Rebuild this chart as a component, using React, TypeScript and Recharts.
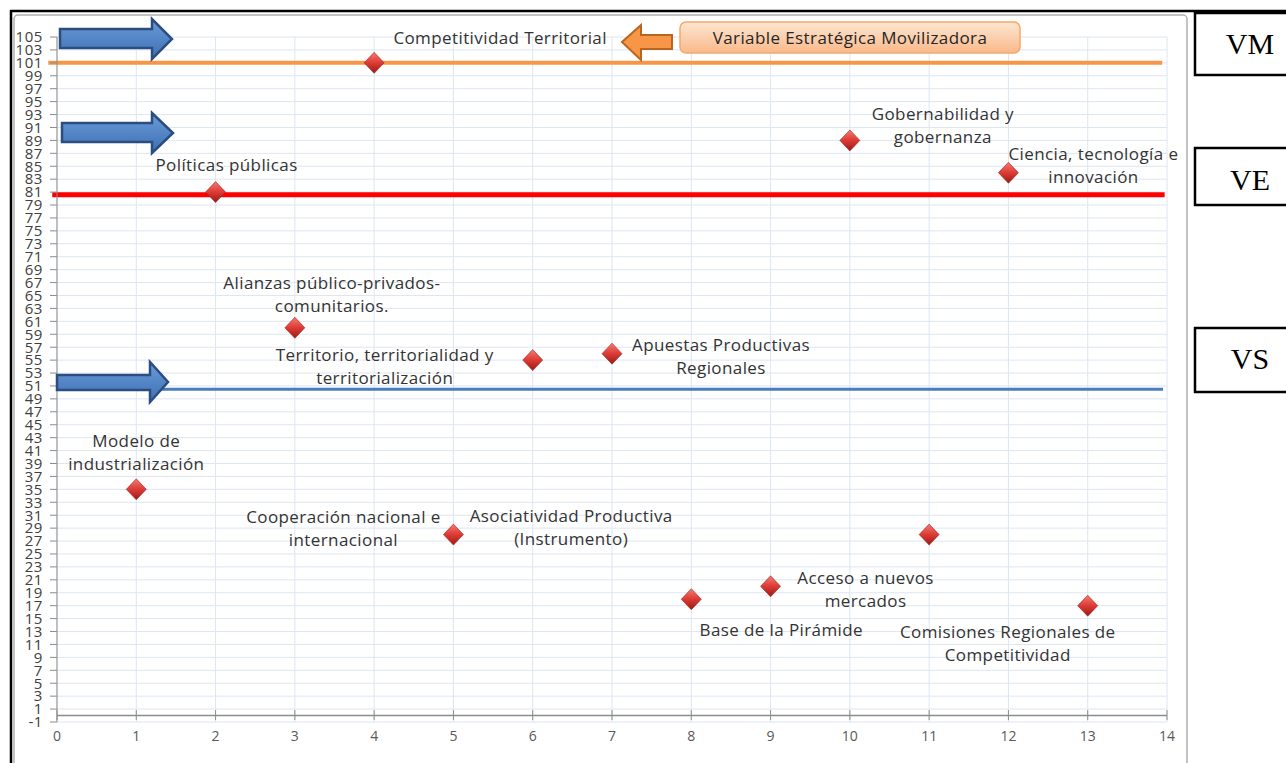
import React from 'react';
import { ScatterChart, Scatter, XAxis, YAxis, CartesianGrid, ReferenceLine } from 'recharts';

// variables (x = posición, y = puntaje)
const positions = [1, 2, 3, 4, 5, 6, 7, 8, 9, 10, 11, 12, 13];
const scores = [35, 81, 60, 101, 28, 55, 56, 18, 20, 89, 28, 84, 17];
const names = [
  'Modelo de\nindustrialización',
  'Políticas públicas',
  'Alianzas público-privados-\ncomunitarios.',
  'Competitividad Territorial',
  'Cooperación nacional e\ninternacional',
  'Territorio, territorialidad y\nterritorialización',
  'Apuestas Productivas\nRegionales',
  'Base de la Pirámide',
  'Acceso a nuevos\nmercados',
  'Gobernabilidad y\ngobernanza',
  'Asociatividad Productiva\n(Instrumento)',
  'Ciencia, tecnología e\ninnovación',
  'Comisiones Regionales de\nCompetitividad',
];

// umbrales: VM, VE, VS
const thresholds = [101, 80.6, 50.5];

const xTicks = [0, 1, 2, 3, 4, 5, 6, 7, 8, 9, 10, 11, 12, 13, 14];
const yTicks = [
  -1, 1, 3, 5, 7, 9, 11, 13, 15, 17, 19, 21, 23, 25, 27, 29, 31, 33, 35, 37, 39, 41, 43, 45, 47, 49, 51,
  53, 55, 57, 59, 61, 63, 65, 67, 69, 71, 73, 75, 77, 79, 81, 83, 85, 87, 89, 91, 93, 95, 97, 99, 101, 103, 105,
];

// where each label sits relative to its marker (px): [dx, dy of first line]
const labelOffsets: [number, number][] = [
  [0, -48], [11, -27], [37, -45], [126, -25], [-110, -18], [-148, -5], [109, -9],
  [90, 31], [95, -8], [93, -26], [-358, -19], [85, -19], [-80, 26],
];

const data = positions.map((x, i) => ({ x, y: scores[i], name: names[i], idx: i }));

const LABEL_FONT = '"Open Sans", sans-serif';

const DiamondWithLabel = (props: any) => {
  const { cx, cy, payload } = props;
  if (cx == null || cy == null) return null;
  const [dx, dy] = labelOffsets[payload.idx];
  const lines = String(payload.name).split('\n');
  return (
    <g>
      <polygon
        points={`${cx},${cy - 10.5} ${cx + 10},${cy} ${cx},${cy + 10.5} ${cx - 10},${cy}`}
        fill="url(#diamondGrad)"
        stroke="#a0201c"
        strokeWidth={0.6}
      />
      {lines.map((ln, k) => (
        <text
          key={k}
          x={cx + dx}
          y={cy + dy + k * 23 + 6}
          textAnchor="middle"
          fontFamily={LABEL_FONT}
          fontSize={17}
          letterSpacing={0.4}
          fill="#333"
        >
          {ln}
        </text>
      ))}
    </g>
  );
};

const blueArrow = (x0: number, sy0: number, sy1: number, hx: number, hy0: number, hy1: number, tip: number) => {
  const cy = (hy0 + hy1) / 2;
  return `M${x0},${sy0} L${hx},${sy0} L${hx},${hy0} L${tip},${cy} L${hx},${hy1} L${hx},${sy1} L${x0},${sy1} Z`;
};

const Overlay = () => (
  <svg
    width={1286}
    height={763}
    style={{ position: 'absolute', left: 0, top: 0, pointerEvents: 'none' }}
  >
    <defs>
      <linearGradient id="blueArrowGrad" x1="0" y1="0" x2="0" y2="1">
        <stop offset="0%" stopColor="#6a9bd8" />
        <stop offset="100%" stopColor="#3e6fb3" />
      </linearGradient>
      <linearGradient id="orangeBoxGrad" x1="0" y1="0" x2="0" y2="1">
        <stop offset="0%" stopColor="#fde6d2" />
        <stop offset="100%" stopColor="#f9b98a" />
      </linearGradient>
    </defs>

    {/* frame */}
    <line x1={10} y1={11} x2={1286} y2={11} stroke="#000" strokeWidth={2.5} />
    <line x1={11} y1={10} x2={11} y2={763} stroke="#000" strokeWidth={2.5} />
    <rect x={14} y={15} width={1173} height={800} rx={4} fill="none" stroke="#b0b0b0" strokeWidth={1.5} />

    {/* blue arrows */}
    <path d={blueArrow(60, 29, 48, 152, 19, 59, 172)} fill="url(#blueArrowGrad)" stroke="#2c4d80" strokeWidth={2.5} />
    <path d={blueArrow(62, 123, 142, 152, 113, 153, 173)} fill="url(#blueArrowGrad)" stroke="#2c4d80" strokeWidth={2.5} />
    <path d={blueArrow(57, 375, 390, 150, 362, 402, 168)} fill="url(#blueArrowGrad)" stroke="#2c4d80" strokeWidth={2.5} />

    {/* orange callout */}
    <path
      d="M622,42 L641,25 L641,35 L672,35 L672,49 L641,49 L641,60 Z"
      fill="#f79646"
      stroke="#b9651f"
      strokeWidth={2}
    />
    <rect x={680} y={22} width={340} height={31} rx={6} fill="url(#orangeBoxGrad)" stroke="#f4a96b" strokeWidth={1.5} />
    <text x={850} y={44} textAnchor="middle" fontFamily={LABEL_FONT} fontSize={17} letterSpacing={0.4} fill="#262626">
      Variable Estratégica Movilizadora
    </text>

    {/* VM / VE / VS boxes */}
    <rect x={1195} y={13} width={110} height={62} fill="#fff" stroke="#000" strokeWidth={2.5} />
    <text x={1250} y={54} textAnchor="middle" fontFamily='"Liberation Serif", serif' fontSize={30} fill="#000">VM</text>
    <rect x={1195} y={148} width={110} height={57} fill="#fff" stroke="#000" strokeWidth={2.5} />
    <text x={1250} y={190} textAnchor="middle" fontFamily='"Liberation Serif", serif' fontSize={30} fill="#000">VE</text>
    <rect x={1195} y={328} width={110} height={64} fill="#fff" stroke="#000" strokeWidth={2.5} />
    <text x={1250} y={369} textAnchor="middle" fontFamily='"Liberation Serif", serif' fontSize={30} fill="#000">VS</text>
  </svg>
);

const App: React.FC = () => {
  return (
    <div style={{ position: 'absolute', left: 0, top: 0, width: 1286, height: 763, background: '#fff' }}>
      <ScatterChart width={1286} height={763} margin={{ top: 37, right: 119, bottom: 11, left: 12 }}>
        <defs>
          <linearGradient id="diamondGrad" x1="0" y1="0" x2="0" y2="1">
            <stop offset="0%" stopColor="#f47a72" />
            <stop offset="50%" stopColor="#dc3b34" />
            <stop offset="100%" stopColor="#9b1a15" />
          </linearGradient>
        </defs>
        <CartesianGrid stroke="#dde6f2" strokeWidth={1} />
        <XAxis
          type="number"
          dataKey="x"
          domain={[0, 14]}
          ticks={xTicks}
          interval={0}
          axisLine={false}
          tickLine={false}
          tickMargin={3}
          height={30}
          tick={{ fontSize: 14, fill: '#595959', fontFamily: LABEL_FONT }}
        />
        <YAxis
          type="number"
          dataKey="y"
          domain={[-1, 105]}
          ticks={yTicks}
          interval={0}
          width={45}
          tickSize={7}
          tickMargin={7}
          axisLine={{ stroke: '#8c8c8c' }}
          tickLine={{ stroke: '#8c8c8c' }}
          tick={{ fontSize: 15, fill: '#404040', fontFamily: LABEL_FONT, letterSpacing: 0.6 }}
        />
        {/* horizontal axis crosses at 0 */}
        <ReferenceLine y={0} stroke="#8c8c8c" strokeWidth={1.5} />
        {xTicks.map((t) => (
          <ReferenceLine
            key={`xt-${t}`}
            segment={[{ x: t, y: 0.85 }, { x: t, y: -0.7 }]}
            stroke="#8c8c8c"
            strokeWidth={1}
          />
        ))}
        <Scatter data={data} shape={<DiamondWithLabel />} isAnimationActive={false} />
        <ReferenceLine
          segment={[{ x: -0.11, y: thresholds[0] }, { x: 13.94, y: thresholds[0] }]}
          stroke="#f79646"
          strokeWidth={4}
          ifOverflow="visible"
        />
        <ReferenceLine
          segment={[{ x: -0.06, y: thresholds[1] }, { x: 13.97, y: thresholds[1] }]}
          stroke="#ff0000"
          strokeWidth={5}
          ifOverflow="visible"
        />
        <ReferenceLine
          segment={[{ x: 0, y: thresholds[2] }, { x: 13.95, y: thresholds[2] }]}
          stroke="#4a7ebb"
          strokeWidth={3}
          ifOverflow="visible"
        />
      </ScatterChart>
      <Overlay />
    </div>
  );
};

export default App;
